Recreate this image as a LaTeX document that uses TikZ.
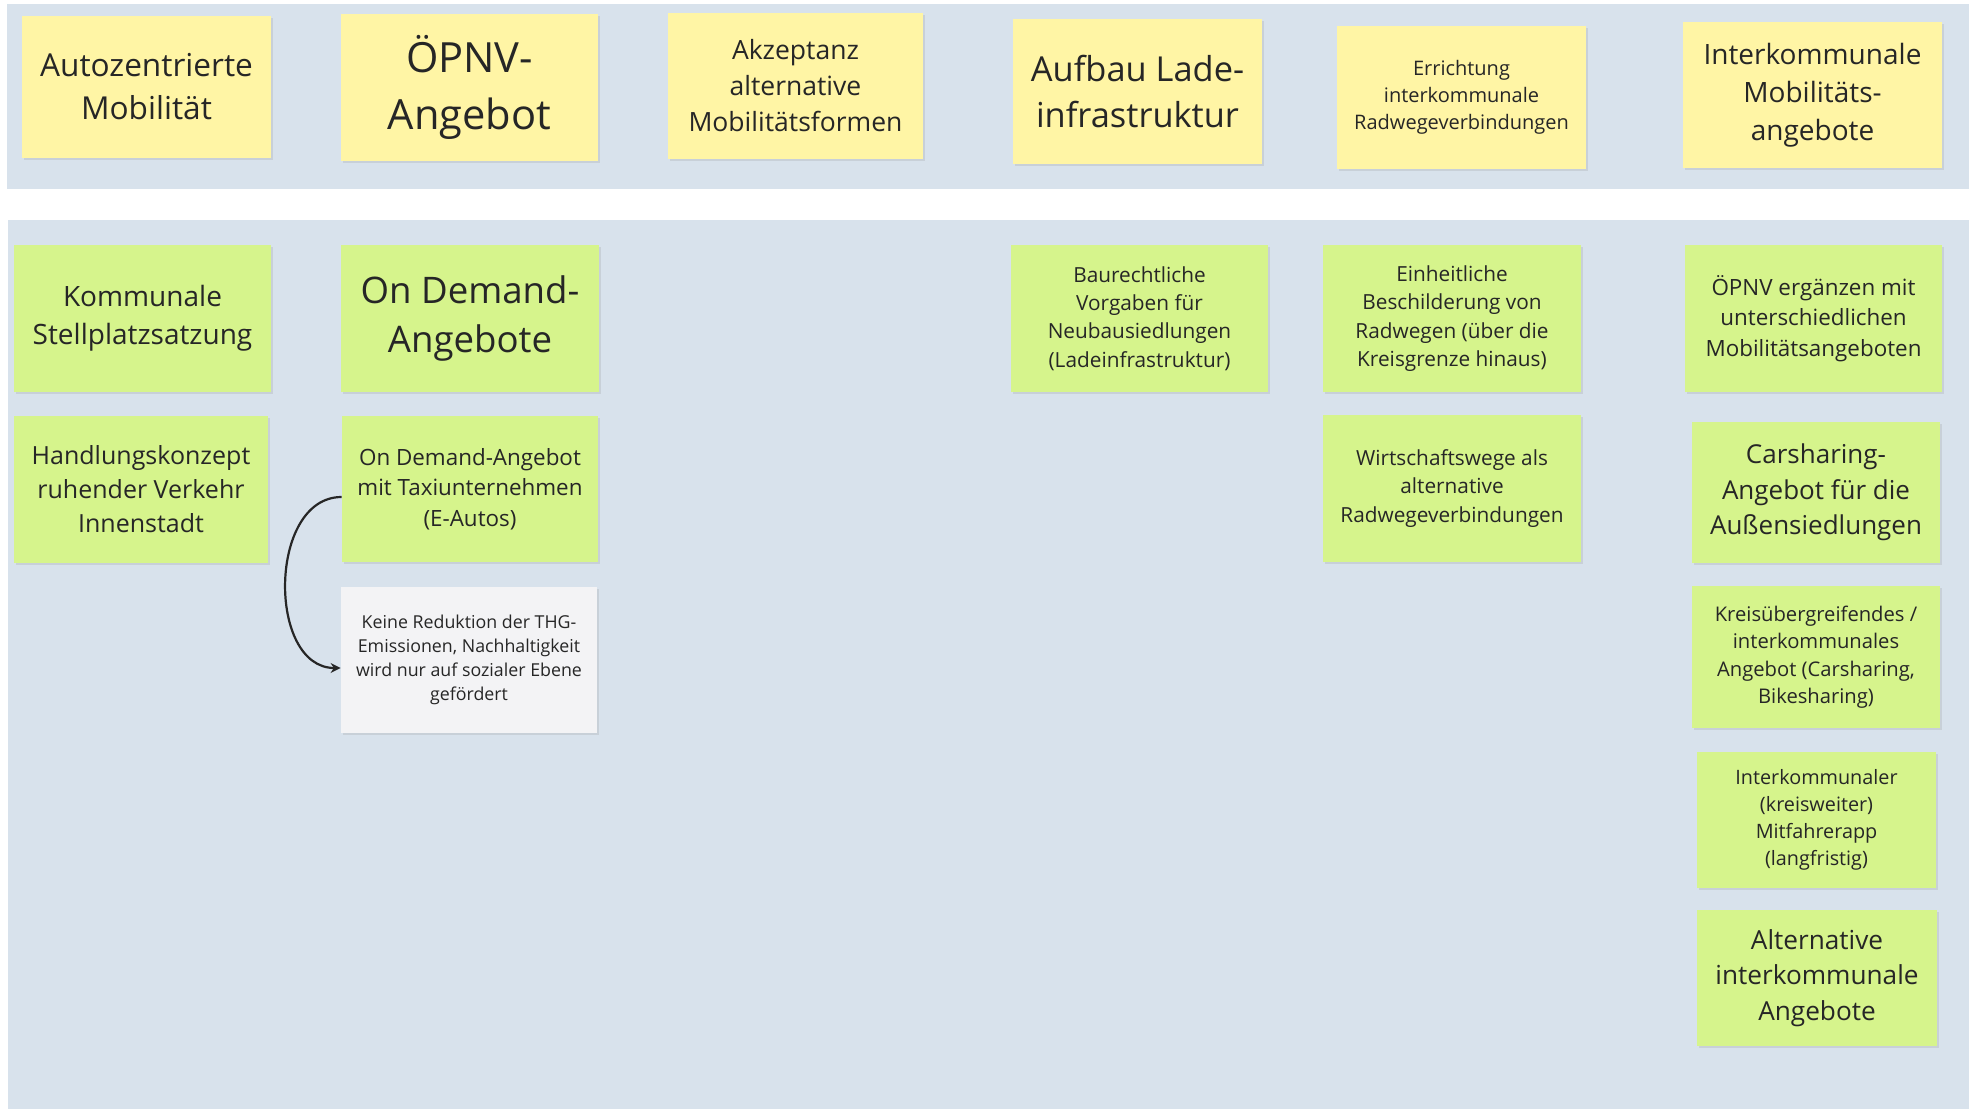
\documentclass[tikz,border=0pt]{standalone}
\usepackage{fontspec}
\setmainfont{Open Sans}
\usepackage{tikz}
\usetikzlibrary{arrows.meta, shadows}
\definecolor{board}{HTML}{D8E2EC}
\definecolor{noteyel}{HTML}{FFF5A5}
\definecolor{notegrn}{HTML}{D6F48C}
\definecolor{notegry}{HTML}{F3F3F5}
\definecolor{ink}{HTML}{262626}
\newcommand{\notesize}[2]{\fontsize{#1}{#2}\selectfont}
\tikzset{
  sticky/.style  ={rectangle, inner sep=2pt, align=center, text=ink,
                   drop shadow={shadow xshift=0.8pt, shadow yshift=-1.2pt, opacity=0.18}},
  goal/.style    ={sticky, fill=noteyel},   % top row: fields of action
  measure/.style ={sticky, fill=notegrn},   % measures below
  remark/.style  ={sticky, fill=notegry},   % comment on a measure
  sz/.style 2 args={minimum width=#1, minimum height=#2},
  link/.style    ={-{Stealth[length=5pt, width=5pt]}, line width=1.1pt, ink},
  band/.style    ={fill=board, draw=none},
}

\begin{document}
\begin{tikzpicture}[x=0.5pt, y=-0.5pt]
  \useasboundingbox (0,0) rectangle (1969,1109);
  \fill[white] (0,0) rectangle (1969,1109);
  % board bands
  \fill[band] (7,4)   rectangle (1969,189);
  \fill[band] (8,220) rectangle (1969,1109);

  % TOP: fields of action
  \node[goal, sz={124.5pt}{71pt},   font=\notesize{15.8}{21.5}] (auto)  at (146.5,87)  {Autozentrierte\\Mobilität};
  \node[goal, sz={128.5pt}{73.5pt}, font=\notesize{20.8}{28.3}] (oepnv) at (469.5,87.5) {ÖPNV-\\Angebot};
  \node[goal, sz={127.5pt}{73pt},   font=\notesize{13.25}{18}]  (akz)   at (795.5,86)  {Akzeptanz\\alternative\\Mobilitätsformen};
  \node[goal, sz={124.5pt}{72.5pt}, font=\notesize{17.2}{23.4}] (lade)  at (1137.5,91.5) {Aufbau Lade-\\infrastruktur};
  \node[goal, sz={124.5pt}{71.5pt}, font=\notesize{10}{13.6}]   (rad)   at (1461.5,97.5) {Errichtung\\interkommunale\\Radwegeverbindungen};
  \node[goal, sz={129.5pt}{73pt},   font=\notesize{14}{19}]     (ikmob) at (1812.5,95) {Interkommunale\\Mobilitäts-\\angebote};

  % BOTTOM: measures per column
  \node[measure, sz={128.5pt}{73.5pt}, font=\notesize{14}{19}]     (stell)  at (142.5,318.5) {Kommunale\\Stellplatzsatzung};
  \node[measure, sz={127pt}{73.5pt},   font=\notesize{12.5}{17}]   (hand)   at (141,489.5)   {Handlungskonzept\\ruhender Verkehr\\Innenstadt};

  \node[measure, sz={129pt}{73.5pt},   font=\notesize{18.3}{24.9}] (ondem)  at (470,318.5)   {On Demand-\\Angebote};
  \node[measure, sz={128pt}{73pt},     font=\notesize{11.2}{15.2}] (taxi)   at (470,489)     {On Demand-Angebot\\mit Taxiunternehmen\\(E-Autos)};
  \node[remark,  sz={128pt}{73pt},     font=\notesize{8.9}{12.1}]  (keine)  at (469,660)     {Keine Reduktion der THG-\\Emissionen, Nachhaltigkeit\\wird nur auf sozialer Ebene\\gefördert};

  \node[measure, sz={128.5pt}{73.5pt}, font=\notesize{10.4}{14.1}] (bau)    at (1139.5,318.5) {Baurechtliche\\Vorgaben für\\Neubausiedlungen\\(Ladeinfrastruktur)};

  \node[measure, sz={129pt}{73.5pt},   font=\notesize{10.4}{14.1}] (schild) at (1452,318.5)  {Einheitliche\\Beschilderung von\\Radwegen (über die\\Kreisgrenze hinaus)};
  \node[measure, sz={129pt}{73.5pt},   font=\notesize{10.4}{14.1}] (wirt)   at (1452,488.5)  {Wirtschaftswege als\\alternative\\Radwegeverbindungen};

  \node[measure, sz={128.5pt}{73.5pt}, font=\notesize{11.2}{15.2}] (erg)    at (1813.5,318.5) {ÖPNV ergänzen mit\\unterschiedlichen\\Mobilitätsangeboten};
  \node[measure, sz={124pt}{70.5pt},   font=\notesize{13}{17.7}]   (car)    at (1816,492.5)  {Carsharing-\\Angebot für die\\Außensiedlungen};
  \node[measure, sz={124pt}{71pt},     font=\notesize{10.1}{13.7}] (kreis)  at (1816,657)    {Kreisübergreifendes /\\interkommunales\\Angebot (Carsharing,\\Bikesharing)};
  \node[measure, sz={119.5pt}{68pt},   font=\notesize{9.9}{13.5}]  (mitf)   at (1816.5,820)  {Interkommunaler\\(kreisweiter)\\Mitfahrerapp\\(langfristig)};
  \node[measure, sz={120pt}{68pt},     font=\notesize{13.1}{17.8}] (alt)    at (1817,978)    {Alternative\\interkommunale\\Angebote};

  % comment link
  \draw[link] ([yshift=-4pt]taxi.west) to[out=180, in=180, looseness=1.1] ([yshift=-4pt]keine.west);
\end{tikzpicture}
\end{document}
